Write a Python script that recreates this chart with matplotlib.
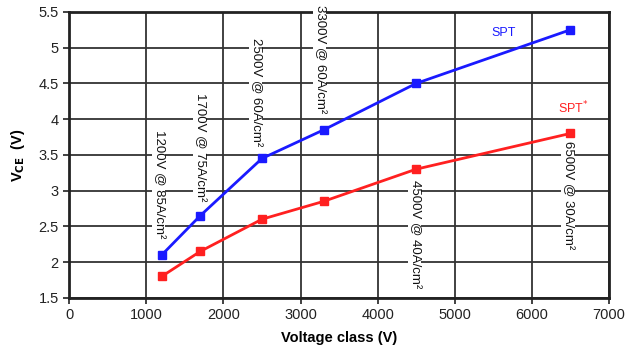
import matplotlib
matplotlib.use("Agg")
import matplotlib.pyplot as plt

plt.rcParams['font.family'] = ['Liberation Sans', 'DejaVu Sans']

voltage = [1200, 1700, 2500, 3300, 4500, 6500]
spt = [2.1, 2.65, 3.45, 3.85, 4.5, 5.25]
spt_star = [1.8, 2.15, 2.6, 2.85, 3.3, 3.8]

annotations = [
    ("1200V @ 85A/cm²", 1160, 3.85),
    ("1700V @ 75A/cm²", 1690, 4.37),
    ("2500V @ 60A/cm²", 2420, 5.14),
    ("3300V @ 60A/cm²", 3250, 5.6),
    ("4500V @ 40A/cm²", 4480, 3.15),
    ("6500V @ 30A/cm²", 6470, 3.7),
]

fig = plt.figure(figsize=(6.41, 3.5), dpi=100)
ax = fig.add_axes([0.108, 0.149, 0.842, 0.817])

ax.plot(voltage, spt, color='#1a1aff', lw=2, marker='s', ms=6, zorder=4)
ax.plot(voltage, spt_star, color='#ff2020', lw=2, marker='s', ms=6, zorder=4)

ax.set_xlim(0, 7000)
ax.set_ylim(1.5, 5.5)
ax.set_xticks(range(0, 7001, 1000))
ax.set_yticks([1.5, 2, 2.5, 3, 3.5, 4, 4.5, 5, 5.5])
ax.set_yticklabels(['1.5', '2', '2.5', '3', '3.5', '4', '4.5', '5', '5.5'])
ax.grid(True, color='#333333', lw=1.3, zorder=0)
for s in ax.spines.values():
    s.set_linewidth(2)
    s.set_color('#222222')
ax.tick_params(labelsize=10.5, length=4, width=1.3, color='#333333', colors='#222222')

ax.set_xlabel('Voltage class (V)', fontsize=10.5, fontweight='bold', labelpad=6)
ax.set_ylabel('V$_{\\mathbf{CE}}$  (V)', fontsize=10.5, fontweight='bold', labelpad=8)

for txt, x, y in annotations:
    ax.text(x, y, txt, rotation=270, ha='center', va='top', fontsize=9.5,
            color='#111111', clip_on=False, zorder=5,
            bbox=dict(facecolor='white', edgecolor='none', pad=0.5))

ax.text(5630, 5.2, 'SPT', color='#1a1aff', fontsize=9, ha='center', va='center', zorder=5)
ax.text(6540, 4.15, 'SPT$^{*}$', color='#ff2020', fontsize=9, ha='center', va='center', zorder=5)

fig.savefig('out.png', dpi=100)
